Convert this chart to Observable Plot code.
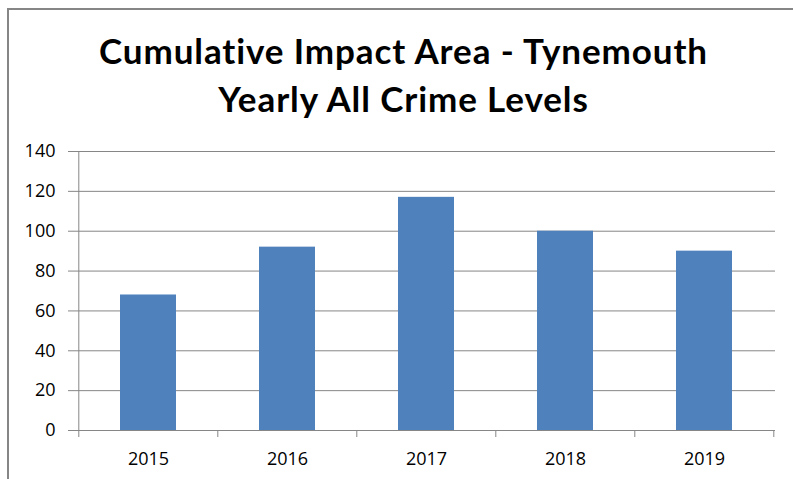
<!DOCTYPE html>
<html>
<head>
<meta charset="utf-8">
<script src="https://cdn.jsdelivr.net/npm/d3@7"></script>
<script src="https://cdn.jsdelivr.net/npm/@observablehq/plot@0.6"></script>
<style>
  html, body { margin: 0; padding: 0; background: #fff; }
  #wrap { position: relative; width: 793px; height: 479px; overflow: hidden; background: #fff; }
  #frame { position: absolute; left: 7px; top: 8px; width: 2000px; height: 2000px;
           border-left: 2px solid #868686; border-top: 2px solid #868686; pointer-events: none; }
  #title { height: 140px; box-sizing: border-box; padding-top: 26px; padding-left: 14px; text-align: center;
           font-family: Lato, "Open Sans", sans-serif; font-weight: bold; font-size: 35px;
           letter-spacing: 0.9px; font-variant-ligatures: none; font-feature-settings: "liga" 0;
           line-height: 48px; color: #000; }
  #chart svg { display: block; }
</style>
</head>
<body>
<div id="wrap">
  <div id="title">Cumulative Impact Area - Tynemouth<br>Yearly All Crime Levels</div>
  <div id="chart"></div>
  <div id="frame"></div>
</div>
<script>
const years = ["2015", "2016", "2017", "2018", "2019"];
const crimes = [68, 92, 117, 100, 90];
const yTicks = [0, 20, 40, 60, 80, 100, 120, 140];

const data = years.map((year, i) => ({year, value: crimes[i]}));
const gray = "#868686";

function categoryTicks(index, scales, values, dims) {
  const {x, y} = scales;
  const n = years.length;
  let edges;
  if (x && typeof x.step === "function") {
    const step = x.step(), pi = x.paddingInner();
    edges = x.domain().map(d => x(d) - step * pi / 2);
    edges.push(edges[edges.length - 1] + step);
  } else {
    const w = (dims.width - dims.marginLeft - dims.marginRight) / n;
    edges = d3.range(n + 1).map(i => dims.marginLeft + i * w);
  }
  const y0 = y(0);
  const g = d3.create("svg:g").attr("stroke", gray).attr("stroke-width", 1);
  g.selectAll("line.t").data(edges).join("line")
    .attr("class", "t")
    .attr("x1", d => d + 0.5).attr("x2", d => d + 0.5)
    .attr("y1", y0).attr("y2", y0 + 7);
  g.append("line")
    .attr("x1", edges[0] + 0.5).attr("x2", edges[0] + 0.5)
    .attr("y1", y(yTicks[yTicks.length - 1])).attr("y2", y0);
  return g.node();
}

const chart = Plot.plot({
  width: 793,
  height: 339,
  marginTop: 11,
  marginBottom: 49,
  marginLeft: 77,
  marginRight: 18,
  style: {fontFamily: "'Open Sans', sans-serif", fontSize: "18px", color: "#000", background: "#fff", overflow: "visible"},
  x: {domain: years, paddingInner: 0.6, paddingOuter: 0.3, axis: null, label: null},
  y: {domain: [0, 140], axis: null, label: null},
  marks: [
    Plot.gridY(yTicks, {stroke: gray, strokeOpacity: 1, strokeWidth: 1}),
    Plot.axisY(yTicks, {tickSize: 9, tickPadding: 13, stroke: gray, strokeOpacity: 1, fill: "#000", fontSize: 18, label: null}),
    Plot.barY(data, {x: "year", y: "value", fill: "#4F81BD"}),
    Plot.axisX({tickSize: 0, tickPadding: 22, fill: "#000", fontSize: 18, label: null}),
    categoryTicks
  ]
});
document.getElementById("chart").appendChild(chart);
</script>
</body>
</html>
